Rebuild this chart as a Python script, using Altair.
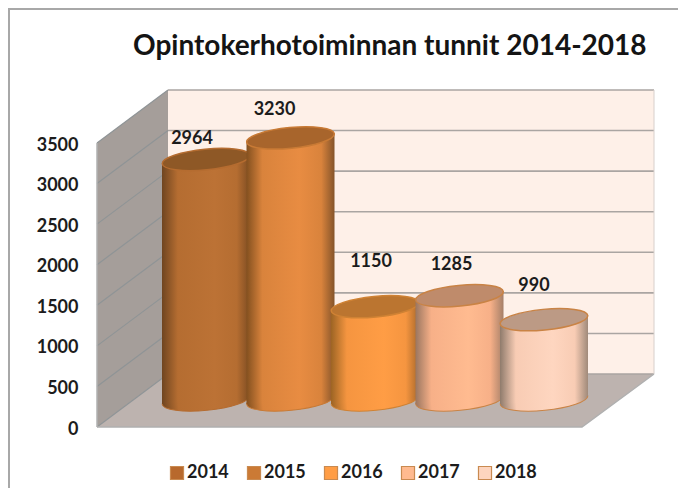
import altair as alt
import pandas as pd

# --- chart values
years = ["2014", "2015", "2016", "2017", "2018"]
hours = [2964, 3230, 1150, 1285, 990]
ticks = [0, 500, 1000, 1500, 2000, 2500, 3000, 3500]
title_text = "Opintokerhotoiminnan tunnit 2014-2018"

# --- styling, one entry per year
swatch = ["#b8692d", "#cb7a35", "#ff9d45", "#ffba8f", "#fdd5bf"]
edge_l = ["#6f4520", "#83501f", "#9c6424", "#9a7660", "#8f7b6c"]
mid_l = ["#b56d31", "#d9833c", "#f59540", "#f7b088", "#f8ccb4"]
light = ["#bc7235", "#e88c42", "#ff9d45", "#ffbb90", "#fed6c0"]
edge_r = ["#7d4c22", "#85542a", "#a8682a", "#a57f68", "#a08a7a"]
top_fill = ["#8e5826", "#a8652c", "#bb7530", "#bf8b6b", "#bc9a85"]
top_edge = ["#b56c30", "#c87a35", "#cf8234", "#c98345", "#c98345"]
label_dx = [-14, -16, -4, -8, -10]
label_dy = [-20, -28, -45, -31, -34]

# --- drawing geometry
PX = 284 / 3500          # pixels per value unit
SPAN_X = (8, 678)
SPAN_V = (-(488 - 427) / PX, (427 - 8) / PX)
FRONT_L, FRONT_R, BACK_L, BACK_R = 97, 582, 168, 654
DEPTH = 53 / PX          # full floor depth in value units
MID = 27 / PX            # cylinders stand half way in
TILT = 4 / PX
CX0, CX_STEP, R = 206, 84.5, 44
TOP = 3500

xs = alt.Scale(domain=list(SPAN_X), nice=False, zero=False)
ys = alt.Scale(domain=list(SPAN_V), nice=False, zero=False)
y_axis = alt.Axis(values=ticks, title=None, grid=False, domain=False, ticks=False, format="d",
                  offset=-89, labelPadding=19, labelFont="Lato", labelFontWeight="bold",
                  labelFontSize=18, labelColor="#1c1c1c", labelOffset=2)
X = alt.X("x:Q", scale=xs, axis=None)
Y = alt.Y("y:Q", scale=ys, axis=y_axis, stack=None)
Y2 = alt.Y2("y2:Q")

ELLIPSE = "M-1,0A1,0.235,0,1,1,1,0A1,0.235,0,1,1,-1,0Z"
E_SIZE = (2 * R) ** 2


def grad(i):
    return alt.LinearGradient(
        gradient="linear", x1=0, x2=1, y1=0, y2=0,
        stops=[alt.GradientStop(color=edge_l[i], offset=0),
               alt.GradientStop(color=mid_l[i], offset=0.18),
               alt.GradientStop(color=light[i], offset=0.6),
               alt.GradientStop(color=mid_l[i], offset=0.85),
               alt.GradientStop(color=edge_r[i], offset=1)])


layers = []

# frame (top and left edge)
layers.append(alt.Chart(pd.DataFrame({"a": [0]})).mark_rule(color="#a8a8a8", strokeWidth=2)
              .encode(x=alt.value(1)))
layers.append(alt.Chart(pd.DataFrame({"a": [0]})).mark_rule(color="#a8a8a8", strokeWidth=2)
              .encode(y=alt.value(1)))

# left wall
layers.append(alt.Chart(pd.DataFrame({"x": [FRONT_L, BACK_L], "y": [0, DEPTH],
                                      "y2": [TOP, TOP + DEPTH]}))
              .mark_area(color="#a59e9a", opacity=1).encode(x=X, y=Y, y2=Y2))
# back wall
layers.append(alt.Chart(pd.DataFrame({"x": [BACK_L, BACK_R], "y": [DEPTH, DEPTH],
                                      "y2": [TOP + DEPTH, TOP + DEPTH]}))
              .mark_area(color="#fef0e8", opacity=1).encode(x=X, y=Y, y2=Y2))
# floor
layers.append(alt.Chart(pd.DataFrame({"x": [FRONT_L, BACK_L, FRONT_R, BACK_R],
                                      "y": [0, 0, 0, DEPTH],
                                      "y2": [0, DEPTH, DEPTH, DEPTH]}))
              .mark_area(color="#bdb3af", opacity=1).encode(x=X, y=Y, y2=Y2))

# gridlines running over left and back wall
side = pd.DataFrame([{"t": t, "x": x, "y": t + d} for t in ticks
                     for x, d in ((FRONT_L, 0), (BACK_L, DEPTH))])
back = pd.DataFrame([{"t": t, "x": x, "y": t + DEPTH} for t in ticks
                     for x in (BACK_L, BACK_R)])
layers.append(alt.Chart(side).mark_line(color="#8f9496", strokeWidth=1.2)
              .encode(x=X, y=Y, detail="t:N"))
layers.append(alt.Chart(back).mark_line(color="#aaa5a2", strokeWidth=1.6)
              .encode(x=X, y=Y, detail="t:N"))
# outer edges
layers.append(alt.Chart(pd.DataFrame({"x": [FRONT_L, FRONT_L], "y": [0, TOP]}))
              .mark_line(color="#b0b0b0", strokeWidth=1.5).encode(x=X, y=Y))
layers.append(alt.Chart(pd.DataFrame({"x": [FRONT_L, FRONT_R, BACK_R],
                                      "y": [0, 0, DEPTH]}))
              .mark_line(color="#b0b0b0", strokeWidth=1.5).encode(x=X, y=Y))
layers.append(alt.Chart(pd.DataFrame({"x": [BACK_R, BACK_R], "y": [DEPTH, TOP + DEPTH]}))
              .mark_line(color="#d8d0cc", strokeWidth=1).encode(x=X, y=Y))

# hidden behind the cylinders: carries the real legend
centers = [CX0 + i * CX_STEP for i in range(len(years))]
legend_df = pd.DataFrame({"x": centers, "y": [v / 2 + MID for v in hours], "year": years})
layers.append(alt.Chart(legend_df).mark_point(shape="square", filled=True, size=20, opacity=1)
              .encode(x=X, y=Y, color=alt.Color(
                  "year:N",
                  scale=alt.Scale(domain=years, range=swatch),
                  legend=alt.Legend(
                      title=None, orient="none", legendX=160, legendY=456, direction="horizontal",
                      columns=5, symbolType="square", symbolSize=170, symbolOpacity=1,
                      symbolStrokeColor="#c98a50", symbolStrokeWidth=1.2,
                      labelFont="Lato", labelFontWeight="bold", labelFontSize=18,
                      labelColor="#1c1c1c", labelOffset=1, columnPadding=16))))

# cylinders
for i, (yr, v) in enumerate(zip(years, hours)):
    cx = centers[i]
    base = MID
    top = v + MID
    body = pd.DataFrame({"x": [cx - R, cx + R],
                         "y": [top - TILT, top + TILT],
                         "y2": [base - TILT, base + TILT]})
    one_base = pd.DataFrame({"x": [cx], "y": [base]})
    one_top = pd.DataFrame({"x": [cx], "y": [top]})
    layers.append(alt.Chart(one_base)
                  .mark_point(shape=ELLIPSE, size=E_SIZE, angle=354.5, filled=True,
                              fill=grad(i), stroke=top_edge[i], strokeWidth=1, opacity=1)
                  .encode(x=X, y=Y))
    layers.append(alt.Chart(body).mark_area(fill=grad(i), opacity=1)
                  .encode(x=X, y=Y, y2=Y2))
    layers.append(alt.Chart(one_top)
                  .mark_point(shape=ELLIPSE, size=E_SIZE, angle=354.5, filled=True,
                              fill=top_fill[i], stroke=top_edge[i], strokeWidth=1.5, opacity=1)
                  .encode(x=X, y=Y))

# value labels
for i, (yr, v) in enumerate(zip(years, hours)):
    df = pd.DataFrame({"x": [centers[i]], "y": [v + MID], "label": [str(v)]})
    layers.append(alt.Chart(df)
                  .mark_text(font="Lato", fontWeight="bold", fontSize=18, color="#1c1c1c",
                             dx=label_dx[i], dy=label_dy[i])
                  .encode(x=X, y=Y, text="label:N"))

chart = alt.layer(*layers).properties(
    width=670, height=480, padding=0,
    autosize=alt.AutoSizeParams(type="none"),
    title=alt.TitleParams(title_text, anchor="start", frame="group", dx=125, dy=58,
                          font="Lato", fontWeight="bold", fontSize=28, color="#141414"),
).configure_view(stroke=None)

chart.save("out.html", embed_options={"renderer": "svg", "actions": False})
